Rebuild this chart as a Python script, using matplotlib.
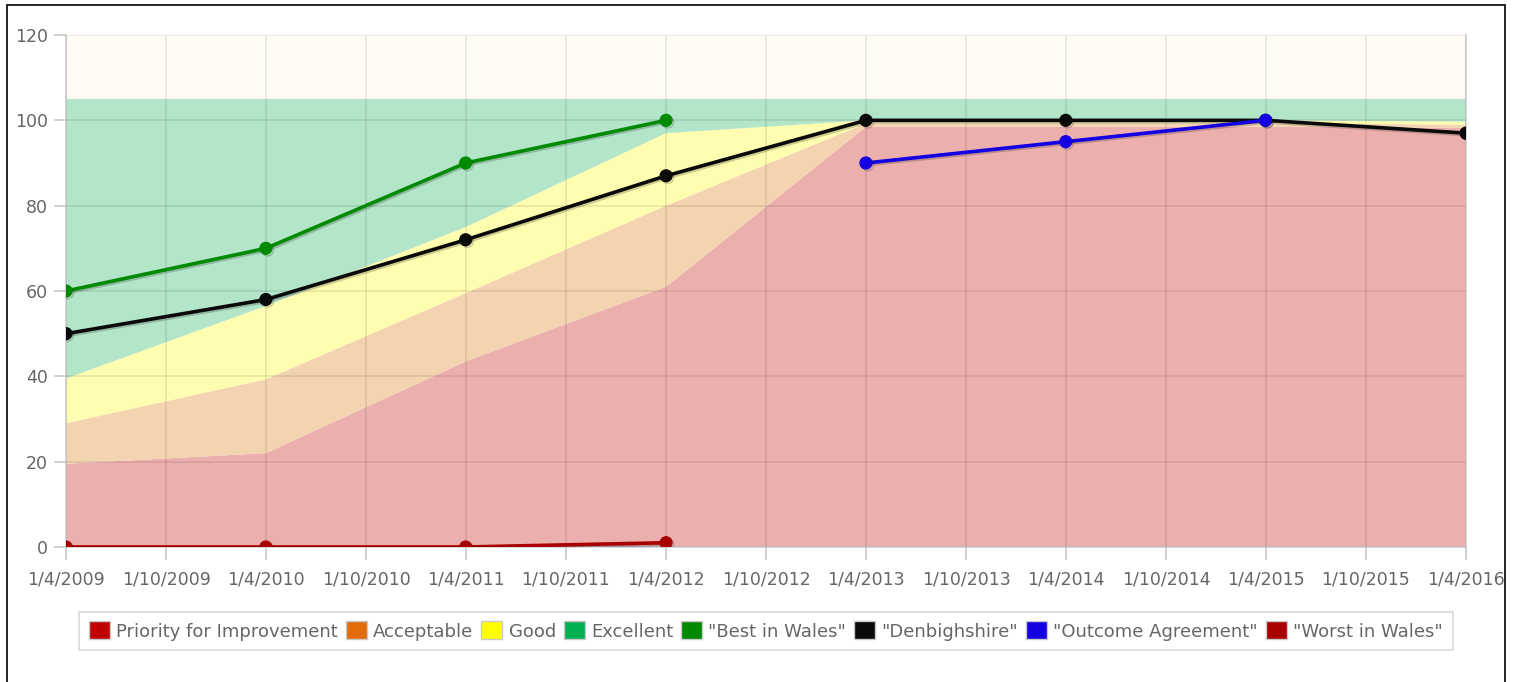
import datetime as dt
import matplotlib
matplotlib.use("Agg")
import matplotlib.pyplot as plt
import matplotlib.dates as mdates
import matplotlib.patheffects as pe
from matplotlib.patches import Patch, Rectangle

# ---------------- data ----------------
years = [2009, 2010, 2011, 2012, 2013, 2014, 2015, 2016]
dates = [dt.date(y, 4, 1) for y in years]

# stacked performance bands (thickness of each band)
priority = [19.5, 22.0, 43.5, 61.0, 98.5, 98.5, 98.5, 98.3]
acceptable = [9.5, 17.3, 16.0, 19.0, 0.8, 0.8, 0.8, 0.7]
good = [10.5, 17.2, 15.5, 17.0, 0.7, 0.7, 0.7, 0.7]
excellent = [65.5, 48.5, 30.0, 8.0, 5.0, 5.0, 5.0, 5.3]

best_dates = dates[:4]
best_in_wales = [60, 70, 90, 100]
denbighshire = [50, 58, 72, 87, 100, 100, 100, 97]
outcome_dates = dates[4:7]
outcome_agreement = [90, 95, 100]
worst_dates = dates[:4]
worst_in_wales = [0, 0, 0, 1]

band_labels = ["Priority for Improvement", "Acceptable", "Good", "Excellent"]
band_fill = ["#EBB0AE", "#F4D3B0", "#FFFDB0", "#B3E5C8"]
band_legend = ["#C00000", "#E36C09", "#FFFF00", "#00B050"]
line_labels = ['"Best in Wales"', '"Denbighshire"', '"Outcome Agreement"', '"Worst in Wales"']
line_colors = ["#008A00", "#0A0A0A", "#1400E0", "#A80000"]

y_ticks = [0, 20, 40, 60, 80, 100, 120]

# ---------------- figure ----------------
W, H = 1519, 682
fig = plt.figure(figsize=(W / 100, H / 100), dpi=100)
fig.patch.set_facecolor("white")
ax = fig.add_axes([66 / W, (H - 547) / H, 1400 / W, 512 / H])
ax.set_facecolor("#FFFCF5")

ax.stackplot(dates, priority, acceptable, good, excellent,
             colors=band_fill, linewidth=0, zorder=1)

shadow = [pe.SimpleLineShadow(offset=(1.2, -1.2), alpha=0.2, shadow_color="black"), pe.Normal()]
series = [(best_dates, best_in_wales), (dates, denbighshire),
          (outcome_dates, outcome_agreement), (worst_dates, worst_in_wales)]
for (xs, ys), c in zip(series, line_colors):
    ax.plot(xs, ys, color=c, lw=2.6, marker="o", markersize=8.5, zorder=5,
            path_effects=shadow)

ax.set_xlim(dt.date(2009, 4, 1), dt.date(2016, 4, 1))
ax.set_ylim(0, 120)
ax.set_yticks(y_ticks)

xt = []
for y in range(2009, 2017):
    xt.append(dt.date(y, 4, 1))
    if y < 2016:
        xt.append(dt.date(y, 10, 1))
ax.set_xticks(xt)
ax.xaxis.set_major_formatter(plt.FuncFormatter(
    lambda v, p: (lambda d: f"{d.day}/{d.month}/{d.year}")(mdates.num2date(v))))

ax.grid(True, color="black", alpha=0.09, lw=1.2, zorder=3)
ax.set_axisbelow(False)
for gl in ax.get_xgridlines() + ax.get_ygridlines():
    gl.set_zorder(3)

for s in ax.spines.values():
    s.set_color("#D0D0D0")
    s.set_linewidth(1.2)
ax.spines["top"].set_visible(False)

ax.tick_params(axis="both", colors="#C8C8C8", labelcolor="#666666",
               labelsize=12.5, length=9, width=1.2)
ax.tick_params(axis="x", pad=8)
ax.tick_params(axis="y", pad=4)

# legend
handles = [Patch(facecolor=c, edgecolor="#C8C8C8", linewidth=1.0)
           for c in band_legend + line_colors]
labels = band_labels + line_labels
leg = fig.legend(handles, labels, loc="center", bbox_to_anchor=(766 / W, (H - 631) / H),
                 ncol=8, frameon=True, fancybox=False, edgecolor="#CFCFCF",
                 handlelength=1.15, handleheight=1.15, handletextpad=0.35,
                 columnspacing=0.45, borderpad=0.55,
                 prop={"size": 13.0})
for t in leg.get_texts():
    t.set_color("#666666")
leg.get_frame().set_linewidth(1.2)

# outer frame
fig.add_artist(Rectangle((7 / W, -0.1), (1505 - 7) / W, (H - 5) / H + 0.1,
                         transform=fig.transFigure, fill=False, ec="black", lw=1.2))

fig.savefig("out.png", dpi=100)
